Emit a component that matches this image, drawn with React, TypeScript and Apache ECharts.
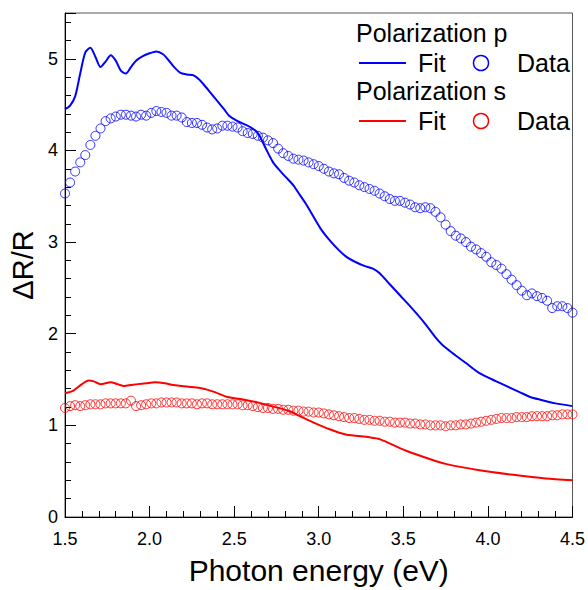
import React, { useEffect, useRef } from "react";
import * as echarts from "echarts";

// Measured points (photon energy in eV)
const dataEnergy = [
  1.5, 1.53, 1.56, 1.59, 1.62, 1.65, 1.68, 1.71, 1.74, 1.77,
  1.8, 1.83, 1.86, 1.89, 1.92, 1.95, 1.98, 2.01, 2.04, 2.07,
  2.1, 2.13, 2.16, 2.19, 2.22, 2.25, 2.28, 2.31, 2.34, 2.37,
  2.4, 2.43, 2.46, 2.49, 2.52, 2.55, 2.58, 2.61, 2.64, 2.67,
  2.7, 2.73, 2.76, 2.79, 2.82, 2.85, 2.88, 2.91, 2.94, 2.97,
  3.0, 3.03, 3.06, 3.09, 3.12, 3.15, 3.18, 3.21, 3.24, 3.27,
  3.3, 3.33, 3.36, 3.39, 3.42, 3.45, 3.48, 3.51, 3.54, 3.57,
  3.6, 3.63, 3.66, 3.69, 3.72, 3.75, 3.78, 3.81, 3.84, 3.87,
  3.9, 3.93, 3.96, 3.99, 4.02, 4.05, 4.08, 4.11, 4.14, 4.17,
  4.2, 4.23, 4.26, 4.29, 4.32, 4.35, 4.38, 4.41, 4.44, 4.47,
  4.5,
];

const pData = [
  3.53, 3.65, 3.77, 3.87, 3.95, 4.06, 4.16, 4.24, 4.32, 4.35,
  4.37, 4.39, 4.39, 4.38, 4.37, 4.39, 4.38, 4.41, 4.43, 4.42,
  4.41, 4.38, 4.38, 4.36, 4.31, 4.3, 4.3, 4.28, 4.25, 4.23,
  4.24, 4.27, 4.27, 4.26, 4.25, 4.21, 4.19, 4.18, 4.16, 4.14,
  4.11, 4.08, 4.02, 3.97, 3.94, 3.91, 3.9, 3.89, 3.87, 3.85,
  3.83, 3.8, 3.77, 3.75, 3.74, 3.7, 3.67, 3.65, 3.62, 3.6,
  3.58, 3.56, 3.53, 3.5, 3.47, 3.45, 3.45, 3.43, 3.41, 3.38,
  3.37, 3.38, 3.37, 3.33, 3.27, 3.19, 3.12, 3.07, 3.04, 3.0,
  2.95, 2.92, 2.88, 2.84, 2.78, 2.75, 2.71, 2.65, 2.59, 2.53,
  2.47, 2.42, 2.44, 2.41, 2.39, 2.36, 2.28, 2.3, 2.3, 2.28,
  2.23,
];

const sData = [
  1.19, 1.21, 1.22, 1.21, 1.22, 1.23, 1.23, 1.23, 1.24, 1.24,
  1.24, 1.24, 1.24, 1.27, 1.21, 1.22, 1.23, 1.24, 1.24, 1.25,
  1.25, 1.25, 1.25, 1.24, 1.24, 1.24, 1.23, 1.24, 1.24, 1.23,
  1.23, 1.23, 1.23, 1.23, 1.23, 1.22, 1.22, 1.21, 1.2, 1.19,
  1.19, 1.18, 1.18, 1.17, 1.17, 1.16, 1.16, 1.15, 1.15, 1.14,
  1.14, 1.13, 1.12, 1.11, 1.1, 1.09, 1.08, 1.08, 1.07, 1.06,
  1.06, 1.05, 1.05, 1.04, 1.04, 1.03, 1.03, 1.03, 1.02, 1.02,
  1.01, 1.01, 1.0, 1.0, 1.0, 0.99, 1.0, 1.0, 1.01, 1.01,
  1.02, 1.03, 1.04, 1.05, 1.06, 1.07, 1.08, 1.08, 1.08, 1.09,
  1.09, 1.09, 1.1, 1.1, 1.1, 1.1, 1.11, 1.11, 1.12, 1.12,
  1.12,
];

// Fit curves
const pFitEnergy = [
  1.5, 1.53, 1.56, 1.59, 1.62, 1.65, 1.68, 1.71, 1.74, 1.77,
  1.8, 1.83, 1.86, 1.89, 1.92, 1.96, 2.0, 2.04, 2.08, 2.11,
  2.14, 2.18, 2.22, 2.26, 2.29, 2.32, 2.36, 2.4, 2.44, 2.47,
  2.52, 2.57, 2.6, 2.63, 2.65, 2.69, 2.73, 2.77, 2.81, 2.85,
  2.89, 2.93, 3.01, 3.06, 3.12, 3.17, 3.22, 3.27, 3.32, 3.36,
  3.42, 3.48, 3.55, 3.62, 3.69, 3.73, 3.79, 3.87, 3.95, 4.05,
  4.12, 4.19, 4.25, 4.31, 4.4, 4.5,
];
const pFitValue = [
  4.45, 4.49, 4.59, 4.84, 5.07, 5.12, 5.02, 4.91, 4.97, 5.04,
  4.98, 4.87, 4.84, 4.91, 4.98, 5.03, 5.06, 5.08, 5.05, 4.99,
  4.92, 4.85, 4.83, 4.82, 4.78, 4.72, 4.63, 4.54, 4.45, 4.38,
  4.32, 4.28, 4.25, 4.21, 4.16, 4.01, 3.87, 3.78, 3.7, 3.62,
  3.51, 3.4, 3.15, 3.03, 2.91, 2.83, 2.78, 2.74, 2.71, 2.66,
  2.54, 2.42, 2.28, 2.13, 1.96, 1.88, 1.79, 1.68, 1.57, 1.48,
  1.42, 1.36, 1.31, 1.28, 1.24, 1.21,
];

const sFitEnergy = [
  1.5, 1.55, 1.6, 1.64, 1.67, 1.71, 1.77, 1.81, 1.85, 1.89,
  1.93, 1.98, 2.03, 2.09, 2.14, 2.19, 2.29, 2.34, 2.39, 2.46,
  2.56, 2.64, 2.72, 2.82, 2.9, 2.97, 3.06, 3.16, 3.3, 3.36,
  3.52, 3.66, 3.75, 3.95, 4.15, 4.34, 4.5,
];
const sFitValue = [
  1.35, 1.38, 1.45, 1.49, 1.48, 1.45, 1.47, 1.45, 1.43, 1.44,
  1.45, 1.46, 1.47, 1.46, 1.44, 1.43, 1.41, 1.39, 1.36, 1.31,
  1.28, 1.25, 1.21, 1.16, 1.09, 1.03, 0.96, 0.9, 0.87, 0.85,
  0.72, 0.63, 0.58, 0.51, 0.46, 0.42, 0.4,
];

const legendTitles = ["Polarization p", "Polarization s"];
const legendColors = ["#0000ff", "#ff0000"];
const fitLabel = "Fit";
const dataLabel = "Data";
const xTitle = "Photon energy (eV)";
const yTitle = "\u0394R/R";

const FONT = "'Liberation Sans', Arial, Helvetica, sans-serif";

function zip(xs: number[], ys: number[]) {
  return xs.map((x, i) => [x, ys[i]]);
}

export default function App() {
  const ref = useRef<HTMLDivElement>(null);

  useEffect(() => {
    if (!ref.current) return;
    const chart = echarts.init(ref.current, null, { renderer: "svg" });

    const legendGraphics: any[] = [];
    const rowTops = [33, 91];
    rowTops.forEach((ty, k) => {
      const color = legendColors[k];
      const ry = ty + 30;
      legendGraphics.push(
        {
          type: "text",
          x: 356,
          y: ty,
          style: {
            text: legendTitles[k],
            font: `25px ${FONT}`,
            fill: "#000",
            textAlign: "left",
            textVerticalAlign: "middle",
          },
        },
        {
          type: "line",
          shape: { x1: 359, y1: ry, x2: 406, y2: ry },
          style: { stroke: color, lineWidth: 2 },
        },
        {
          type: "text",
          x: 418,
          y: ry,
          style: {
            text: fitLabel,
            font: `25px ${FONT}`,
            fill: "#000",
            textAlign: "left",
            textVerticalAlign: "middle",
          },
        },
        {
          type: "circle",
          shape: { cx: 481, cy: ry, r: 7.5 },
          style: { fill: "none", stroke: color, lineWidth: 1.5 },
        },
        {
          type: "text",
          x: 517,
          y: ry,
          style: {
            text: dataLabel,
            font: `25px ${FONT}`,
            fill: "#000",
            textAlign: "left",
            textVerticalAlign: "middle",
          },
        }
      );
    });

    const axisCommon = {
      type: "value" as const,
      axisLine: { show: true, lineStyle: { color: "#000", width: 1 } },
      axisTick: {
        show: true,
        inside: true,
        length: 11,
        lineStyle: { color: "#000", width: 1 },
      },
      minorTick: {
        show: true,
        splitNumber: 5,
        length: 6,
        lineStyle: { color: "#000", width: 1 },
      },
      splitLine: { show: false },
      minorSplitLine: { show: false },
    };

    chart.setOption({
      animation: false,
      backgroundColor: "#fff",
      textStyle: { fontFamily: FONT },
      grid: {
        left: 65,
        right: 15,
        top: 13,
        bottom: 70,
        show: true,
        borderColor: "#555",
        borderWidth: 1,
        backgroundColor: "transparent",
      },
      xAxis: {
        ...axisCommon,
        min: 1.5,
        max: 4.5,
        interval: 0.5,
        axisLabel: {
          fontSize: 18,
          color: "#000",
          fontFamily: FONT,
          margin: 13,
          formatter: (v: number) => v.toFixed(1),
        },
        name: xTitle,
        nameLocation: "middle",
        nameGap: 38,
        nameTextStyle: { fontSize: 30, color: "#000", fontFamily: FONT },
      },
      yAxis: {
        ...axisCommon,
        min: 0,
        max: 5.5,
        interval: 1,
        axisLabel: {
          fontSize: 18,
          color: "#000",
          fontFamily: FONT,
          margin: 7,
          showMaxLabel: false,
          formatter: (v: number) => (v > 5.01 ? "" : String(Math.round(v))),
        },
        name: yTitle,
        nameLocation: "middle",
        nameRotate: 90,
        nameGap: 24,
        nameTextStyle: { fontSize: 29, color: "#000", fontFamily: FONT },
      },
      graphic: legendGraphics,
      series: [
        {
          name: "p data",
          type: "scatter",
          data: zip(dataEnergy, pData),
          symbol: "circle",
          symbolSize: 9,
          itemStyle: {
            color: "rgba(0,0,0,0)",
            borderColor: "#0000ff",
            borderWidth: 1,
          },
          emphasis: { disabled: true },
          z: 2,
        },
        {
          name: "s data",
          type: "scatter",
          data: zip(dataEnergy, sData),
          symbol: "circle",
          symbolSize: 9,
          itemStyle: {
            color: "rgba(0,0,0,0)",
            borderColor: "#ff0000",
            borderWidth: 1,
          },
          emphasis: { disabled: true },
          z: 2,
        },
        {
          name: "p fit",
          type: "line",
          data: zip(pFitEnergy, pFitValue),
          showSymbol: false,
          smooth: 0.25,
          lineStyle: { color: "#0000ff", width: 2 },
          z: 3,
        },
        {
          name: "s fit",
          type: "line",
          data: zip(sFitEnergy, sFitValue),
          showSymbol: false,
          smooth: 0.25,
          lineStyle: { color: "#ff0000", width: 2 },
          z: 3,
        },
      ],
    });

    return () => chart.dispose();
  }, []);

  return (
    <div
      ref={ref}
      style={{
        position: "fixed",
        left: 0,
        top: 0,
        width: 588,
        height: 590,
        background: "#fff",
      }}
    />
  );
}
